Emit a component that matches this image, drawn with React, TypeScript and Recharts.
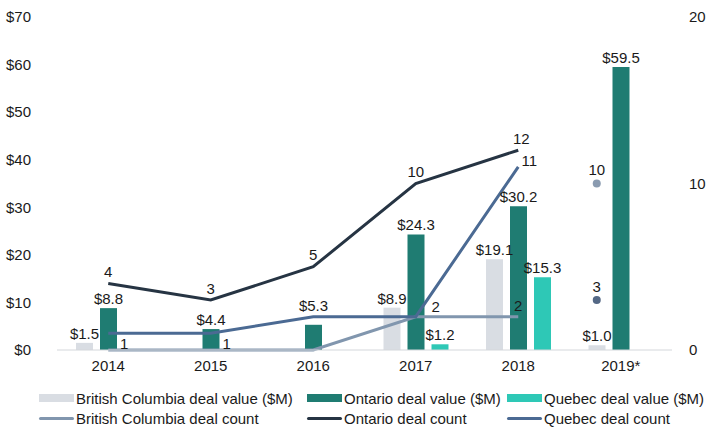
import { Bar, ComposedChart, LabelList, Line, XAxis, YAxis } from "recharts";

// deal values ($M) and deal counts by year
const years = ["2014", "2015", "2016", "2017", "2018", "2019*"];
const bcValue = [1.5, null, null, 8.9, 19.1, 1.0];
const onValue = [8.8, 4.4, 5.3, 24.3, 30.2, 59.5];
const qcValue = [null, null, null, 1.2, 15.3, null];
const bcCount = [0, 0, 0, 2, 2, null];
const onCount = [4, 3, 5, 10, 12, null];
const qcCount = [1, 1, 2, 2, 11, null];
// 2019* counts are shown as lone markers
const bcCount2019 = [null, null, null, null, null, 10];
const qcCount2019 = [null, null, null, null, null, 3];
const valueTicks = [0, 10, 20, 30, 40, 50, 60, 70];
const countTicks = [0, 10, 20];

const data = years.map((year, i) => ({
  year,
  bcValue: bcValue[i],
  onValue: onValue[i],
  qcValue: qcValue[i],
  bcCount: bcCount[i],
  onCount: onCount[i],
  qcCount: qcCount[i],
  bcCount2019: bcCount2019[i],
  qcCount2019: qcCount2019[i],
}));

const FONT = '"Liberation Sans", Arial, Helvetica, sans-serif';
const TEXT = "#1a1a1a";
const BC_BAR = "#d9dde3";
const ON_BAR = "#1f7c72";
const QC_BAR = "#2ec8b6";
const BC_LINE = "#8196ae";
const ON_LINE = "#263443";
const QC_LINE = "#4b6a93";
const BAR_SIZE = 17;
const BAR_GAP = 7;
// 2019 markers sit over the first bar of the group
const MARKER_SHIFT = -(BAR_SIZE + BAR_GAP);

const barLabel = (nudge: Record<number, number> = {}) => (props: any) => {
  const { x, y, width, value, index } = props;
  if (value == null) return null;
  return (
    <text
      x={x + width / 2}
      y={y - 4 - (nudge[index] || 0)}
      textAnchor="middle"
      fontSize={15}
      fontFamily={FONT}
      fill={TEXT}
    >
      {"$" + Number(value).toFixed(1)}
    </text>
  );
};

const pointLabel =
  (show: number[] | null, place: (i: number) => [number, number]) => (props: any) => {
    const { x, y, value, index } = props;
    if (value == null) return null;
    if (show && !show.includes(index)) return null;
    const [dx, dy] = place(index);
    return (
      <text
        x={x + dx}
        y={y + dy}
        textAnchor="middle"
        dominantBaseline="central"
        fontSize={15}
        fontFamily={FONT}
        fill={TEXT}
      >
        {value}
      </text>
    );
  };

const markerDot = (color: string) => (props: any) => {
  const { cx, cy, value, index } = props;
  if (value == null || cy == null) return <g key={index} />;
  return <circle key={index} cx={cx + MARKER_SHIFT} cy={cy} r={4} fill={color} />;
};

const legendRows = [
  [
    { label: "British Columbia deal value ($M)", color: BC_BAR, kind: "bar" },
    { label: "Ontario deal value ($M)", color: ON_BAR, kind: "bar" },
    { label: "Quebec deal value ($M)", color: QC_BAR, kind: "bar" },
  ],
  [
    { label: "British Columbia deal count", color: BC_LINE, kind: "line" },
    { label: "Ontario deal count", color: ON_LINE, kind: "line" },
    { label: "Quebec deal count", color: QC_LINE, kind: "line" },
  ],
];
const legendCols = [39, 307, 507];
const legendRowY = [398, 418];

export default function App() {
  return (
    <div style={{ position: "relative", width: 725, height: 429, fontFamily: FONT }}>
      <style>{"body{margin:0}"}</style>
      <ComposedChart
        width={725}
        height={429}
        data={data}
        margin={{ top: 17, right: 0, bottom: 49, left: 0 }}
        barSize={BAR_SIZE}
        barGap={BAR_GAP}
      >
        <XAxis
          dataKey="year"
          height={30}
          tickLine={false}
          tickMargin={4}
          axisLine={{ stroke: "#d4d7db" }}
          tick={{ fill: TEXT, fontSize: 15, fontFamily: FONT }}
        />
        <YAxis
          yAxisId="left"
          width={57}
          domain={[0, 70]}
          ticks={valueTicks}
          axisLine={false}
          tickLine={false}
          tickMargin={20}
          tickFormatter={(v: number) => "$" + v}
          tick={{ fill: TEXT, fontSize: 15, fontFamily: FONT }}
        />
        <YAxis
          yAxisId="right"
          orientation="right"
          width={53}
          domain={[0, 20]}
          ticks={countTicks}
          axisLine={false}
          tickLine={false}
          tickMargin={11}
          tick={{ fill: TEXT, fontSize: 15, fontFamily: FONT, textAnchor: "start" }}
        />
        <Bar yAxisId="left" dataKey="bcValue" fill={BC_BAR} isAnimationActive={false}>
          <LabelList dataKey="bcValue" content={barLabel()} />
        </Bar>
        <Bar yAxisId="left" dataKey="onValue" fill={ON_BAR} isAnimationActive={false}>
          <LabelList dataKey="onValue" content={barLabel({ 2: 10 })} />
        </Bar>
        <Bar yAxisId="left" dataKey="qcValue" fill={QC_BAR} isAnimationActive={false}>
          <LabelList dataKey="qcValue" content={barLabel()} />
        </Bar>
        <Line
          yAxisId="right"
          dataKey="bcCount"
          stroke={BC_LINE}
          strokeWidth={3}
          dot={false}
          activeDot={false}
          isAnimationActive={false}
        >
          <LabelList dataKey="bcCount" content={pointLabel([4], () => [0, -11])} />
        </Line>
        <Line
          yAxisId="right"
          dataKey="onCount"
          stroke={ON_LINE}
          strokeWidth={3}
          dot={false}
          activeDot={false}
          isAnimationActive={false}
        >
          <LabelList dataKey="onCount" content={pointLabel(null, (i) => [i === 4 ? 3 : 0, -12])} />
        </Line>
        <Line
          yAxisId="right"
          dataKey="qcCount"
          stroke={QC_LINE}
          strokeWidth={3}
          dot={false}
          activeDot={false}
          isAnimationActive={false}
        >
          <LabelList
            dataKey="qcCount"
            content={pointLabel([0, 1, 3, 4], (i) => (i < 2 ? [16, 10] : i === 3 ? [20, -10] : [11, -6]))}
          />
        </Line>
        <Line
          yAxisId="right"
          dataKey="bcCount2019"
          stroke="none"
          dot={markerDot("#8a9bb0")}
          activeDot={false}
          isAnimationActive={false}
        >
          <LabelList dataKey="bcCount2019" content={pointLabel(null, () => [MARKER_SHIFT, -14])} />
        </Line>
        <Line
          yAxisId="right"
          dataKey="qcCount2019"
          stroke="none"
          dot={markerDot("#546885")}
          activeDot={false}
          isAnimationActive={false}
        >
          <LabelList dataKey="qcCount2019" content={pointLabel(null, () => [MARKER_SHIFT, -14])} />
        </Line>
      </ComposedChart>
      {legendRows.map((row, r) =>
        row.map((item, c) => (
          <div
            key={item.label}
            style={{
              position: "absolute",
              left: legendCols[c],
              top: legendRowY[r] - 10,
              height: 20,
              display: "flex",
              alignItems: "center",
              fontSize: 15,
              color: TEXT,
              whiteSpace: "nowrap",
            }}
          >
            <span
              style={{
                display: "inline-block",
                width: 35,
                height: item.kind === "bar" ? 8 : 3,
                borderRadius: item.kind === "bar" ? 0 : 2,
                background: item.color,
                marginRight: 2,
              }}
            />
            {item.label}
          </div>
        ))
      )}
    </div>
  );
}
